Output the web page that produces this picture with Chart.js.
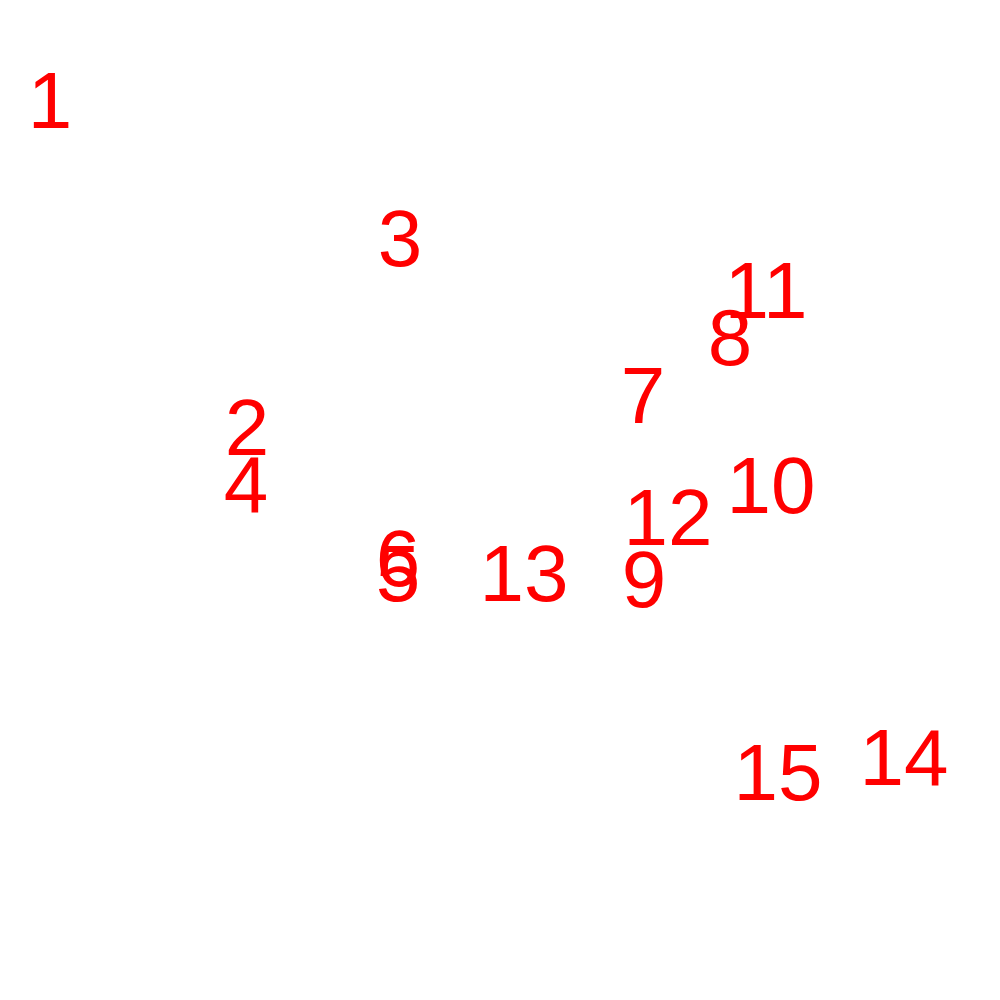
<!DOCTYPE html>
<html>
<head>
<meta charset="utf-8">
<script src="https://cdn.jsdelivr.net/npm/chart.js@4"></script>
<style>
  html, body { margin: 0; padding: 0; background: #fff; }
  #wrap { width: 1000px; height: 1000px; }
</style>
</head>
<body>
<div id="wrap"><canvas id="grafico" width="1000" height="1000"></canvas></div>
<script>
// labels and where they sit (x, y in plot units, y measured upward)
const rotulos = ['1','2','3','4','5','6','7','8','9','10','11','12','13','14','15'];
const posX = [0.50, 2.47, 4.00, 2.46, 3.98, 3.98, 6.43, 7.30, 6.44, 7.71, 7.66, 6.68, 5.24, 9.04, 7.78];
const posY = [8.72, 5.45, 7.34, 4.88, 3.99, 4.14, 5.77, 6.35, 3.93, 4.87, 6.82, 4.55, 3.99, 2.15, 2.00];

const pontos = posX.map((x, i) => ({ x: x, y: posY[i] }));

// draws each label centered on its point, baseline at the point
const textoPlugin = {
    id: 'textoPlugin',
    afterDatasetsDraw(chart) {
        const ctx = chart.ctx;
        const meta = chart.getDatasetMeta(0);
        ctx.save();
        ctx.fillStyle = '#ff0000';
        ctx.font = '80px "Liberation Sans", Arial, Helvetica, sans-serif';
        ctx.textAlign = 'center';
        ctx.textBaseline = 'alphabetic';
        meta.data.forEach((p, i) => {
            ctx.fillText(rotulos[i], p.x, p.y);
        });
        ctx.restore();
    }
};

const ctx = document.getElementById('grafico').getContext('2d');
const grafico = new Chart(ctx, {
    type: 'scatter',
    data: {
        datasets: [{
            data: pontos,
            pointRadius: 0,
            pointHoverRadius: 0
        }]
    },
    options: {
        responsive: false,
        animation: false,
        layout: { padding: 0 },
        plugins: {
            legend: { display: false },
            tooltip: { enabled: false }
        },
        scales: {
            x: { type: 'linear', min: 0, max: 10, display: false },
            y: { type: 'linear', min: 0, max: 10, display: false }
        }
    },
    plugins: [textoPlugin]
});
</script>
</body>
</html>
